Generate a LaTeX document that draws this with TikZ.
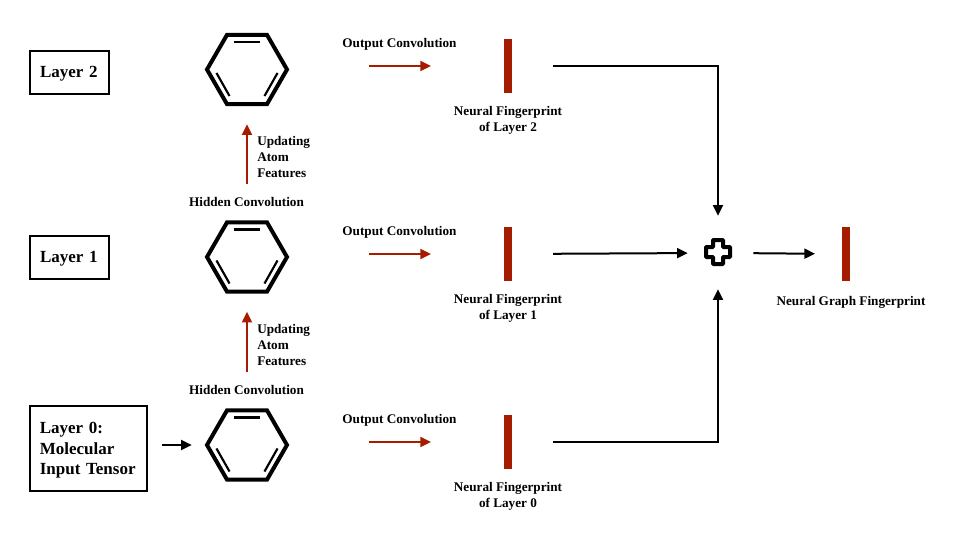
\documentclass[tikz,border=0pt]{standalone}
\usepackage{fontspec}
\setmainfont{Liberation Serif}
\usetikzlibrary{positioning, shapes.geometric, arrows.meta}
\definecolor{barred}{HTML}{A61C00}

\tikzset{
	layerbox/.style={draw, line width=1.5pt, align=left, inner sep=0pt, font=\fontsize{12.75}{15.5}\selectfont\bfseries},
	benzene/.style={
		regular polygon, regular polygon sides=6,
		draw, line width=3pt, line join=miter, minimum size=60pt, inner sep=0pt, outer sep=0pt,
		path picture={
			\draw[line width=1.6pt] ([shift={(-10.1pt,20.6pt)}]path picture bounding box.center) -- ([shift={(10.1pt,20.6pt)}]path picture bounding box.center);
			\draw[line width=1.6pt] ([shift={(-22.9pt,-2.6pt)}]path picture bounding box.center) -- ([shift={(-13.1pt,-19.9pt)}]path picture bounding box.center);
			\draw[line width=1.6pt] ([shift={(22.9pt,-2.6pt)}]path picture bounding box.center) -- ([shift={(13.1pt,-19.9pt)}]path picture bounding box.center);
		}
	},
	fpbar/.style={fill=barred, minimum width=6pt, minimum height=40.5pt, inner sep=0pt, outer sep=0pt},
	smalltext/.style={font=\fontsize{9.9}{12}\selectfont\bfseries, inner sep=0pt, align=center},
	redarrow/.style={draw=barred, line width=1.4pt, -{Triangle[length=8pt,width=7.5pt]}},
	blackarrow/.style={draw=black, line width=1.5pt, -{Triangle[length=8pt,width=7.5pt]}}
}

\begin{document}
\begin{tikzpicture}[x=0.75pt, y=-0.75pt]
	\useasboundingbox (0,0) rectangle (960,540);

	% layers
	\node[layerbox, minimum width=59.25pt, minimum height=32.25pt, text width=44.25pt] (layer2) at (69.5,72.5) {\rule{0pt}{9.5pt}Layer 2};
	\node[layerbox, minimum width=59.25pt, minimum height=32.25pt, text width=44.25pt] (layer1) at (69.5,257.5) {\rule{0pt}{9.5pt}Layer 1};
	\node[layerbox, minimum width=87.75pt, minimum height=63.75pt, text width=73pt] (layer0) at (88.5,448.5) {\rule{0pt}{11pt}Layer 0:\\Molecular\\Input Tensor};

	% one row per layer
	\foreach \r/\y in {0/445, 1/257, 2/69.5} {
		\node[benzene] (hex\r) at (247,\y) {};
	}
	\foreach \r/\y in {0/442, 1/254, 2/66} {
		\node[fpbar] (bar\r) at (508,\y) {};
		\node[smalltext] (out\r) at (399.5,\y-22) {Output Convolution};
		\node[smalltext, below=9.75pt of bar\r] (fp\r) {Neural Fingerprint\\of Layer \r};
		\draw[redarrow, shorten <=61.5pt, shorten >=54.75pt] (hex\r.east |- bar\r.west) -- (bar\r.west);
	}

	% hidden convolution between layers
	\foreach \r/\s/\y in {0/1/389.5, 1/2/201.5} {
		\node[smalltext] (hid\r) at (246.5,\y) {Hidden Convolution};
		\node[smalltext, align=left, anchor=west] (upd\r) at (257,\y-45) {Updating\\Atom\\Features};
		\draw[redarrow, shorten <=28.5pt, shorten >=15pt] (hex\r.north) -- (hex\s.south);
	}

	\draw[blackarrow, shorten <=10.5pt, shorten >=11.5pt] (layer0.east |- hex0.west) -- (hex0.west);

	% sum of the fingerprints
	\node[minimum size=21pt, inner sep=0pt] (plus) at (718,253) {};
	\draw[line width=3pt, rounded corners=0.5pt] (706,247) -- (713,247) -- (713,240) -- (723,240) -- (723,247) -- (730,247) -- (730,257) -- (723,257) -- (723,264) -- (713,264) -- (713,257) -- (706,257) -- cycle;

	\node[fpbar] (barall) at (846,254) {};
	\node[smalltext] (fpall) at (851,302) {Neural Graph Fingerprint};

	\draw[blackarrow, shorten <=30.75pt, shorten >=17.25pt] (bar2.east) -- (bar2.east -| plus) -- (plus.north);
	\draw[blackarrow, shorten <=30.75pt, shorten >=12pt] (bar1.east) -- (plus.west);
	\draw[blackarrow, shorten <=30.75pt, shorten >=16.5pt] (bar0.east) -- (bar0.east -| plus) -- (plus.south);
	\draw[blackarrow, shorten <=15.75pt, shorten >=20.25pt] (plus.east) -- (barall.west);
\end{tikzpicture}
\end{document}
